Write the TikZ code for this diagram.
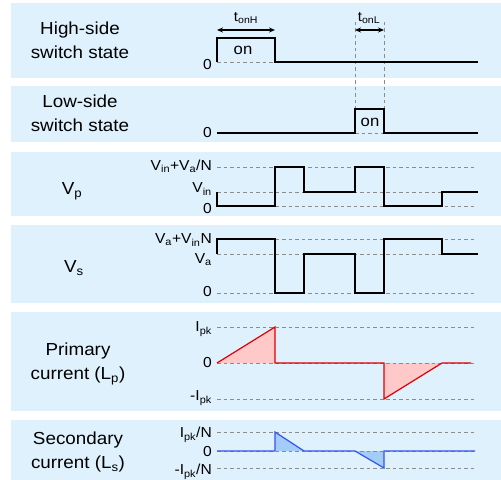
\documentclass[tikz,border=0pt]{standalone}
\usepackage{fontspec}
\setmainfont{Liberation Sans}[FakeStretch=1.08]
\usetikzlibrary{arrows.meta, positioning}
\definecolor{panelbg}{HTML}{DFF1FD}
\definecolor{ipline}{HTML}{DD0000}
\definecolor{ipfill}{HTML}{FFC9C9}
\definecolor{isline}{HTML}{3355EE}
\definecolor{isfill}{HTML}{A3CCF8}

\begin{document}
\begin{tikzpicture}[x=1bp, y=-1bp,
    panel/.style={fill=panelbg, draw=none},
    wave/.style={line width=1.6bp, line join=miter},
    guide/.style={draw=gray!90, dash pattern=on 3.5bp off 3bp, line width=0.8bp},
    biglbl/.style={align=center, inner sep=0pt, font=\fontsize{17.5}{24}\selectfont},
    tick/.style={anchor=east, inner sep=0pt, font=\fontsize{14.5}{15}\selectfont},
    onlbl/.style={inner sep=0pt, font=\fontsize{15.5}{16}\selectfont}]
  \useasboundingbox (0,0) rectangle (501,480);
  % Panels
  \foreach \top/\bot in {3/78, 86/142, 152/216, 225/303, 312/411, 420/480} {
    \fill[panel] (11,\top) rectangle (501,\bot);
  }
  % Row labels
  \node[biglbl] (hsLbl) at (80,40)  {High-side\\switch state};
  \node[biglbl] (lsLbl) at (80,113) {Low-side\\switch state};
  \node[biglbl] (vpLbl) at (72,191) {V\textsubscript{p}};
  \node[biglbl] (vsLbl) at (74,268) {V\textsubscript{s}};
  \node[biglbl] (ipLbl) at (78,364) {Primary\\current (L\textsubscript{p})};
  \node[biglbl] (isLbl) at (78,452) {Secondary\\current (L\textsubscript{s})};
  % Level labels
  \node[tick] (hs0)   at (212,65)  {0};
  \node[tick] (ls0)   at (212,133) {0};
  \node[tick] (vpTop) at (212,166) {V\textsubscript{in}+V\textsubscript{a}/N};
  \node[tick] (vpMid) at (212,189) {V\textsubscript{in}};
  \node[tick] (vp0)   at (212,209) {0};
  \node[tick] (vsTop) at (212,240) {V\textsubscript{a}+V\textsubscript{in}N};
  \node[tick] (vsMid) at (212,260) {V\textsubscript{a}};
  \node[tick] (vs0)   at (212,292) {0};
  \node[tick] (ipTop) at (212,329) {I\textsubscript{pk}};
  \node[tick] (ip0)   at (212,363) {0};
  \node[tick] (ipBot) at (212,398) {-I\textsubscript{pk}};
  \node[tick] (isTop) at (212,435) {I\textsubscript{pk}/N};
  \node[tick] (is0)   at (212,452) {0};
  \node[tick] (isBot) at (212,472) {-I\textsubscript{pk}/N};
  % Current fills
  \fill[ipfill] (217,363) -- (275,327) -- (275,363) -- cycle;
  \fill[ipfill] (384,363) -- (384,399) -- (442,363) -- cycle;
  \fill[isfill] (275,451) -- (275,432) -- (304,451) -- cycle;
  \fill[isfill] (355,451) -- (384,468) -- (384,451) -- cycle;
  % Guide lines
  \foreach \y in {167,192,206, 239,254,293, 327,363,399, 432,451,468} {
    \draw[guide] (217,\y) -- (475,\y);
  }
  \draw[guide] (217,62) -- (275,62);
  \draw[guide] (355,133) -- (384,133);
  \foreach \x in {355,384} {
    \draw[guide] (\x,22) -- (\x,109);
  }
  % Switch states
  \draw[wave] (217,62) -- (217,38) -- (275,38) -- (275,62) -- (478,62);
  \draw[wave] (217,133) -- (355,133) -- (355,109) -- (384,109) -- (384,133) -- (478,133);
  \node[onlbl] (hsOn) at (243,50)  {on};
  \node[onlbl] (lsOn) at (370,122) {on};
  % Voltages
  \draw[wave] (217,192) -- (217,206) -- (275,206) -- (275,167) -- (304,167) -- (304,192)
    -- (355,192) -- (355,167) -- (384,167) -- (384,206) -- (442,206) -- (442,192) -- (478,192);
  \draw[wave] (217,254) -- (217,239) -- (275,239) -- (275,293) -- (304,293) -- (304,254)
    -- (355,254) -- (355,293) -- (384,293) -- (384,239) -- (442,239) -- (442,254) -- (478,254);
  % Currents
  \draw[ipline, line width=1.2bp] (217,363) -- (275,327) -- (275,363) -- (384,363)
    -- (384,399) -- (442,363) -- (471,363);
  \draw[isline, line width=1.2bp] (217,451) -- (275,451) -- (275,432) -- (304,451)
    -- (355,451) -- (384,468) -- (384,451) -- (475,451);
  % On-times
  \coordinate (hOnA) at (217,30);
  \coordinate (hOnB) at (275,30);
  \coordinate (lOnA) at (355,30);
  \coordinate (lOnB) at (384,30);
  \draw[{Stealth[length=6bp, width=5bp]}-{Stealth[length=6bp, width=5bp]}, line width=1.2bp] (hOnA) -- (hOnB);
  \draw[{Stealth[length=6bp, width=5bp]}-{Stealth[length=6bp, width=5bp]}, line width=1.2bp] (lOnA) -- (lOnB);
  \node[onlbl, font=\fontsize{14}{14}\selectfont] (tOnH) at (246,18) {t\textsubscript{onH}};
  \node[onlbl, font=\fontsize{14}{14}\selectfont] (tOnL) at (369,18) {t\textsubscript{onL}};
\end{tikzpicture}
\end{document}
